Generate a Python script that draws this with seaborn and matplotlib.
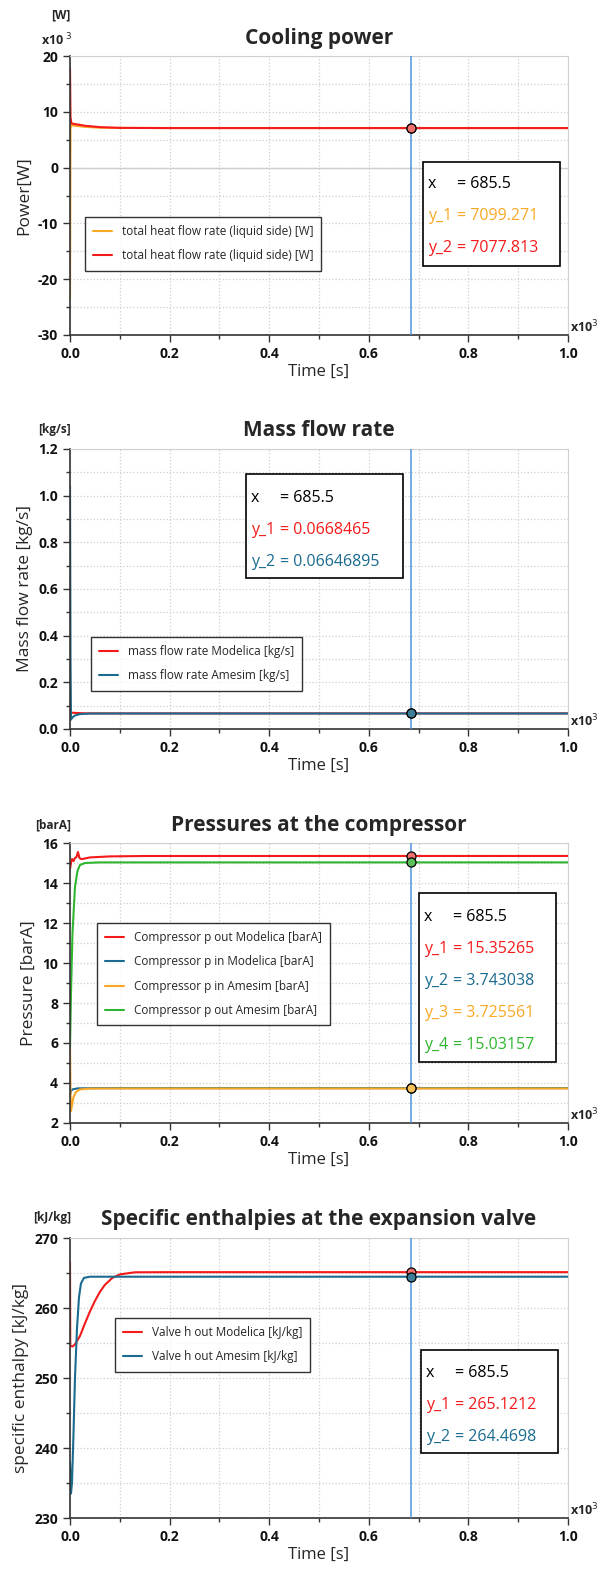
import numpy as np
import matplotlib
matplotlib.use("Agg")
import matplotlib.pyplot as plt
import matplotlib.ticker as mticker
import seaborn as sns

# ---- data (time in s) ----
cursor_t = 685.5

# cooling power [W]
t_pow_liq = [0, 1, 3, 10, 30, 60, 100, 200, 1000]
pow_liq = [-23400, 7000, 7600, 7500, 7300, 7150, 7110, 7100, 7099.271]
t_pow_ref = [0, 1, 3, 10, 30, 60, 100, 200, 1000]
pow_ref = [17800, 9000, 7900, 7800, 7500, 7250, 7120, 7080, 7077.813]
pow_cursor = [7099.271, 7077.813]

# mass flow rate [kg/s]
t_mdot_mod = [0, 3, 10, 30, 100, 1000]
mdot_mod = [0.06, 0.07, 0.069, 0.0672, 0.0668, 0.0668465]
t_mdot_ame = [0, 1, 2, 5, 10, 20, 40, 100, 1000]
mdot_ame = [1.04, 0.30, 0.04, 0.05, 0.058, 0.064, 0.066, 0.0665, 0.06646895]
mdot_cursor = [0.0668465, 0.06646895]

# compressor pressures [barA]
t_pout_mod = [0, 2, 4, 7, 10, 13, 16, 19, 22, 25, 40, 80, 150, 1000]
pout_mod = [14.7, 15.0, 15.2, 15.1, 15.25, 15.3, 15.55, 15.25, 15.2, 15.2, 15.28, 15.33, 15.35, 15.35265]
t_pin_mod = [0, 2, 5, 15, 50, 1000]
pin_mod = [3.4, 3.6, 3.68, 3.73, 3.743, 3.743038]
t_pin_ame = [0, 1, 2, 4, 7, 12, 20, 40, 100, 1000]
pin_ame = [5.9, 3.5, 2.6, 2.9, 3.3, 3.55, 3.68, 3.72, 3.7256, 3.725561]
t_pout_ame = [0, 2, 5, 10, 15, 20, 30, 60, 1000]
pout_ame = [5.8, 8.5, 11.5, 13.8, 14.6, 14.9, 15.0, 15.03, 15.03157]
p_cursor = [15.35265, 3.743038, 3.725561, 15.03157]

# valve outlet enthalpy [kJ/kg]
t_h_mod = [0, 0.5, 5, 10, 20, 30, 40, 50, 60, 70, 85, 100, 130, 200, 1000]
h_mod = [266.5, 254.6, 254.5, 254.8, 256.0, 257.8, 259.5, 261.0, 262.3, 263.3, 264.3, 264.8, 265.1, 265.12, 265.1212]
t_h_ame = [0, 2, 4, 7, 10, 14, 18, 22, 28, 40, 1000]
h_ame = [238, 233.5, 235, 242, 250, 257, 261.5, 263.5, 264.3, 264.47, 264.4698]
h_cursor = [265.1212, 264.4698]

RED = "#f41a1a"
ORANGE = "#f9a825"
BLUE = "#1a6b8f"
GREEN = "#2fb52f"
CURSOR = "#4d94db"

sns.set_style("ticks")
plt.rcParams["font.family"] = ["Open Sans", "DejaVu Sans"]
plt.rcParams["axes.unicode_minus"] = False

fig = plt.figure(figsize=(6.09, 15.71), dpi=100)
W, H = 609, 1571
AX_L, AX_R = 70, 568


def make_ax(top_px, bottom_px):
    ax = fig.add_axes([AX_L / W, 1 - bottom_px / H, (AX_R - AX_L) / W, (bottom_px - top_px) / H])
    ax.top_px, ax.bottom_px = top_px, bottom_px
    return ax


def fx(px):
    return (px - AX_L) / (AX_R - AX_L)


def fy(ax, py):
    return 1 - (py - ax.top_px) / (ax.bottom_px - ax.top_px)


def style_ax(ax, title, ylabel, unit, ylim, ymaj, ymin, yfmt, unit_py):
    ax.set_xlim(0, 1000)
    ax.set_ylim(*ylim)
    ax.xaxis.set_major_locator(mticker.MultipleLocator(200))
    ax.xaxis.set_minor_locator(mticker.MultipleLocator(100))
    ax.xaxis.set_major_formatter(mticker.FuncFormatter(lambda v, p: f"{v / 1000:.1f}"))
    ax.yaxis.set_major_locator(mticker.MultipleLocator(ymaj))
    ax.yaxis.set_minor_locator(mticker.MultipleLocator(ymin))
    ax.yaxis.set_major_formatter(mticker.FuncFormatter(yfmt))
    ax.grid(True, which="both", linestyle=":", color="#cfcfcf", linewidth=0.9)
    ax.set_axisbelow(True)
    for s in ("top", "right"):
        ax.spines[s].set_color("#d0d0d0")
    for s in ("left", "bottom"):
        ax.spines[s].set_color("#333333")
        ax.spines[s].set_linewidth(1.2)
    ax.tick_params(which="major", length=5, width=1, color="#333333", labelsize=10, labelcolor="#111111")
    ax.tick_params(which="minor", length=3, width=1, color="#333333")
    for lab in ax.get_xticklabels() + ax.get_yticklabels():
        lab.set_fontweight("bold")
    ax.set_title(title, fontsize=15, fontweight="bold", pad=9)
    ax.set_xlabel("Time [s]", fontsize=12, labelpad=2)
    ax.set_ylabel(ylabel, fontsize=12.5, labelpad=4)
    ax.text(1.005, 0.03, r"x10$^{3}$", transform=ax.transAxes, fontsize=9, fontweight="bold",
            ha="left", va="center")
    ax.text(fx(71), fy(ax, unit_py), unit, transform=ax.transAxes, fontsize=8.5, fontweight="bold",
            ha="right", va="center")
    ax.axvline(cursor_t, color=CURSOR, linewidth=1.1, zorder=3)


def info_box(ax, left_px, top_px, right_px, bottom_px, first_py, lines):
    rect = plt.Rectangle((fx(left_px), fy(ax, bottom_px)), fx(right_px) - fx(left_px),
                         fy(ax, top_px) - fy(ax, bottom_px), transform=ax.transAxes,
                         facecolor="white", edgecolor="black", linewidth=1.2,
                         clip_on=False, zorder=5)
    ax.add_patch(rect)
    for i, (name, val, col) in enumerate(lines):
        yy = fy(ax, first_py + i * 32)
        ax.text(fx(left_px + 5), yy, name, transform=ax.transAxes, color=col, fontsize=11.5,
                va="center", ha="left", zorder=6, clip_on=False)
        ax.text(fx(left_px + 34), yy, "= " + val, transform=ax.transAxes, color=col, fontsize=11.5,
                va="center", ha="left", zorder=6, clip_on=False)


def legend(ax, left_px, top_px):
    leg = ax.legend(loc="upper left", bbox_to_anchor=(fx(left_px), fy(ax, top_px)), fontsize=8.5,
                    frameon=True, fancybox=False, edgecolor="black", handlelength=1.6,
                    borderpad=0.7, labelspacing=0.95, borderaxespad=0)
    leg.get_frame().set_linewidth(1.0)
    leg.set_zorder(6)


def markers(ax, vals, cols):
    for v, c in zip(vals, cols):
        ax.plot([cursor_t], [v], marker="o", markersize=6.5, markerfacecolor=c,
                markeredgecolor="black", markeredgewidth=0.9, zorder=7)


# ---- panel 1: cooling power ----
ax1 = make_ax(56, 335)
ax1.axhline(0, color="#cfcfcf", linewidth=1.0, zorder=1)
sns.lineplot(x=t_pow_liq, y=pow_liq, ax=ax1, color=ORANGE, linewidth=1.5,
             label="total heat flow rate (liquid side) [W]")
sns.lineplot(x=t_pow_ref, y=pow_ref, ax=ax1, color=RED, linewidth=1.5,
             label="total heat flow rate (liquid side) [W]")
style_ax(ax1, "Cooling power", "Power[W]", "[W]", (-30000, 20000), 10000, 5000,
         lambda v, p: f"{int(round(v / 1000))}", 15)
ax1.text(fx(72), fy(ax1, 40), r"x10$^{\ 3}$", transform=ax1.transAxes, fontsize=9,
         fontweight="bold", ha="right", va="center")
markers(ax1, pow_cursor, [ORANGE, "#f07070"])
legend(ax1, 85, 217)
info_box(ax1, 423, 162, 560, 266, 184, [("x", "685.5", "black"), ("y_1", "7099.271", ORANGE),
                                        ("y_2", "7077.813", RED)])

# ---- panel 2: mass flow rate ----
ax2 = make_ax(449, 729)
sns.lineplot(x=t_mdot_mod, y=mdot_mod, ax=ax2, color=RED, linewidth=1.5,
             label="mass flow rate Modelica [kg/s]")
sns.lineplot(x=t_mdot_ame, y=mdot_ame, ax=ax2, color=BLUE, linewidth=1.5,
             label="mass flow rate Amesim [kg/s]")
style_ax(ax2, "Mass flow rate", "Mass flow rate [kg/s]", "[kg/s]", (0, 1.2), 0.2, 0.1,
         lambda v, p: f"{v:.1f}", 430)
markers(ax2, mdot_cursor, ["#3d7f99", "#3d7f99"])
legend(ax2, 91, 637)
info_box(ax2, 246, 474, 403, 578, 498, [("x", "685.5", "black"), ("y_1", "0.0668465", RED),
                                        ("y_2", "0.06646895", BLUE)])

# ---- panel 3: pressures ----
ax3 = make_ax(843, 1123)
sns.lineplot(x=t_pout_mod, y=pout_mod, ax=ax3, color=RED, linewidth=1.5,
             label="Compressor p out Modelica [barA]")
sns.lineplot(x=t_pin_mod, y=pin_mod, ax=ax3, color=BLUE, linewidth=1.5,
             label="Compressor p in Modelica [barA]")
sns.lineplot(x=t_pin_ame, y=pin_ame, ax=ax3, color=ORANGE, linewidth=1.5,
             label="Compressor p in Amesim [barA]")
sns.lineplot(x=t_pout_ame, y=pout_ame, ax=ax3, color=GREEN, linewidth=1.5,
             label="Compressor p out Amesim [barA]")
style_ax(ax3, "Pressures at the compressor", "Pressure [barA]", "[barA]", (2, 16), 2, 1,
         lambda v, p: f"{int(round(v))}", 825)
markers(ax3, p_cursor, ["#f07070", BLUE, "#f9c15a", "#5cc05c"])
legend(ax3, 97, 923)
info_box(ax3, 419, 893, 556, 1062, 917, [("x", "685.5", "black"), ("y_1", "15.35265", RED),
                                         ("y_2", "3.743038", BLUE), ("y_3", "3.725561", ORANGE),
                                         ("y_4", "15.03157", GREEN)])

# ---- panel 4: enthalpies ----
ax4 = make_ax(1238, 1518)
sns.lineplot(x=t_h_mod, y=h_mod, ax=ax4, color=RED, linewidth=1.5,
             label="Valve h out Modelica [kJ/kg]")
sns.lineplot(x=t_h_ame, y=h_ame, ax=ax4, color=BLUE, linewidth=1.5,
             label="Valve h out Amesim [kJ/kg]")
style_ax(ax4, "Specific enthalpies at the expansion valve", "specific enthalpy [kJ/kg]", "[kJ/kg]",
         (230, 270), 10, 5, lambda v, p: f"{int(round(v))}", 1218)
markers(ax4, h_cursor, ["#f07070", "#3d7f99"])
legend(ax4, 115, 1318)
info_box(ax4, 421, 1350, 558, 1453, 1373, [("x", "685.5", "black"), ("y_1", "265.1212", RED),
                                           ("y_2", "264.4698", BLUE)])

fig.savefig("out.png", dpi=100)
